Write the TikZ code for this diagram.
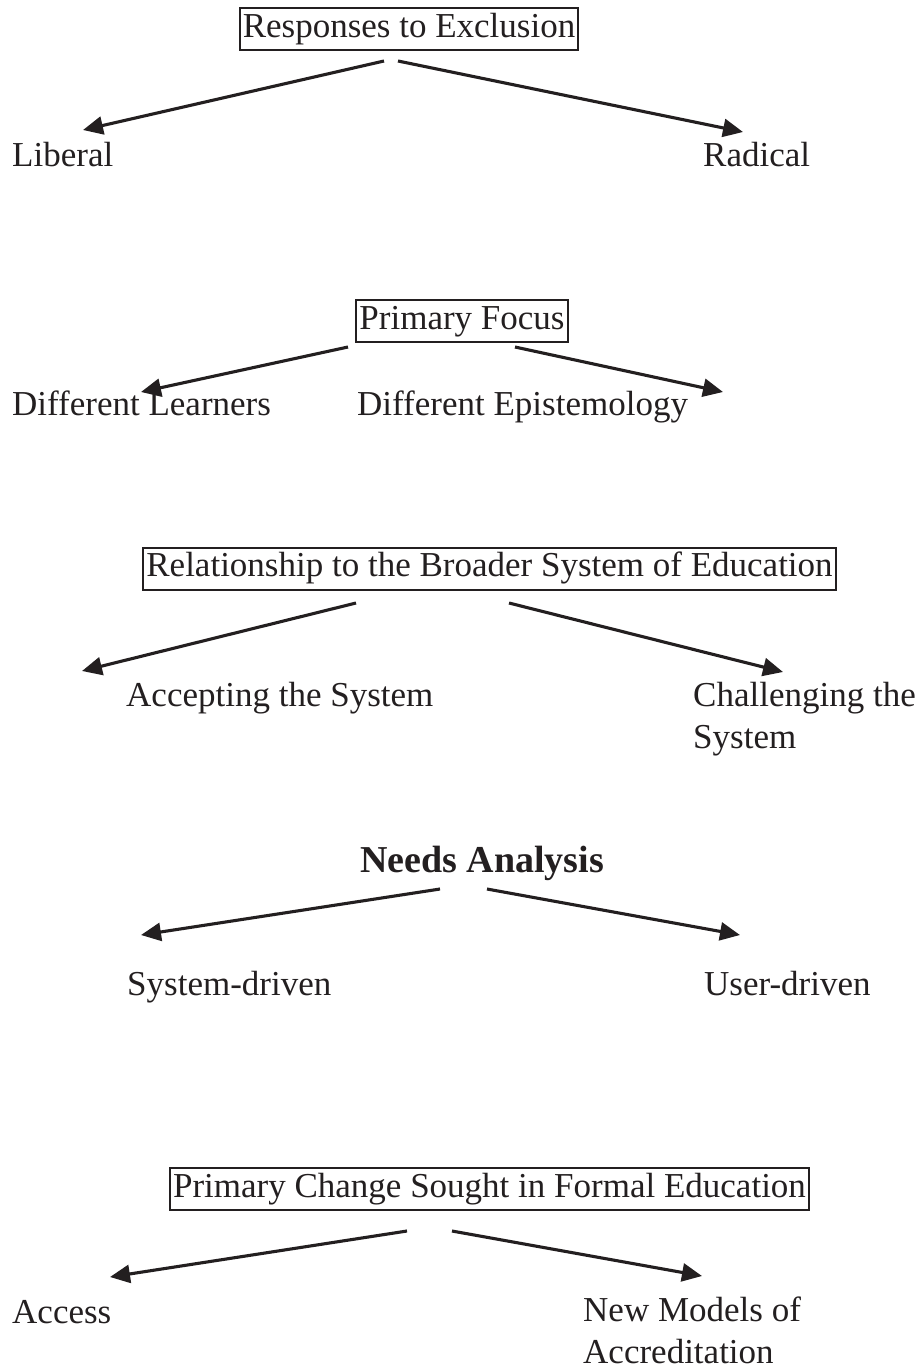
\documentclass[tikz,border=0pt]{standalone}
\usepackage{fontspec}
\setmainfont{Liberation Serif}
\usepackage{tikz}
\usetikzlibrary{arrows.meta}
\definecolor{ink}{HTML}{231F20}
\tikzset{>={Triangle[length=20pt,width=18pt]}}
\tikzstyle{arrow}  = [->,
                      draw=ink,
                      line width=3.1pt]
\tikzstyle{box}    = [draw=ink,
                      line width=2pt,
                      text=ink,
                      inner xsep=3pt,
                      inner ysep=5pt,
                      text height=24pt,
                      text depth=8pt,
                      font=\fontsize{35}{42}\selectfont]
\tikzstyle{leaf}   = [text=ink,
                      inner sep=0pt,
                      anchor=base west,
                      align=left,
                      font=\fontsize{35}{42}\selectfont]

\begin{document}
\begin{tikzpicture}[x=1pt,y=-1pt]

  \useasboundingbox (0,0) rectangle (922,1371);

  % Nodes
  \node[box] (resp) at (409,29) {Responses to Exclusion};
  \node[leaf] (liberal) at (12,166) {Liberal};
  \node[leaf] (radical) at (703,166) {Radical};

  \node[box] (focus) at (462,321) {Primary Focus};
  \node[leaf] (learners) at (12,415) {Different Learners};
  \node[leaf] (epist) at (357,415) {Different Epistemology};

  \node[box] (relation) at (489.5,568.5) {Relationship to the Broader System of Education};
  \node[leaf] (accept) at (126,706) {Accepting the System};
  % two lines: base is the last line
  \node[leaf] (challenge) at (693,748) {Challenging the\\System};

  \node[text=ink, inner sep=0pt, anchor=base,
    font=\fontsize{38}{44}\selectfont\bfseries] (needs) at (482,872) {Needs Analysis};
  \node[leaf] (sysdriven) at (127,995) {System-driven};
  \node[leaf] (userdriven) at (704,995) {User-driven};

  \node[box] (change) at (489.5,1189) {Primary Change Sought in Formal Education};
  \node[leaf] (access) at (12,1323) {Access};
  \node[leaf] (models) at (583,1363) {New Models of\\Accreditation};

  % Arrow ends
  \coordinate (resp-l) at (384,61);
  \coordinate (resp-r) at (398,61);
  \coordinate (liberal-tip) at (83,130);
  \coordinate (radical-tip) at (743,132);
  \coordinate (focus-l) at (348,347);
  \coordinate (focus-r) at (515,347);
  \coordinate (learners-tip) at (141,392);
  \coordinate (epist-tip) at (723,392);
  \coordinate (relation-l) at (356,603);
  \coordinate (relation-r) at (509,603);
  \coordinate (accept-tip) at (82,671);
  \coordinate (challenge-tip) at (783,672);
  \coordinate (needs-l) at (440,889);
  \coordinate (needs-r) at (487,889);
  \coordinate (sysdriven-tip) at (141,935);
  \coordinate (userdriven-tip) at (740,935);
  \coordinate (change-l) at (407,1231);
  \coordinate (change-r) at (452,1231);
  \coordinate (access-tip) at (110,1277);
  \coordinate (models-tip) at (702,1276);

  % Edges
  \draw[arrow] (resp-l) -- (liberal-tip);
  \draw[arrow] (resp-r) -- (radical-tip);
  \draw[arrow] (focus-l) -- (learners-tip);
  \draw[arrow] (focus-r) -- (epist-tip);
  \draw[arrow] (relation-l) -- (accept-tip);
  \draw[arrow] (relation-r) -- (challenge-tip);
  \draw[arrow] (needs-l) -- (sysdriven-tip);
  \draw[arrow] (needs-r) -- (userdriven-tip);
  \draw[arrow] (change-l) -- (access-tip);
  \draw[arrow] (change-r) -- (models-tip);

\end{tikzpicture}
\end{document}
